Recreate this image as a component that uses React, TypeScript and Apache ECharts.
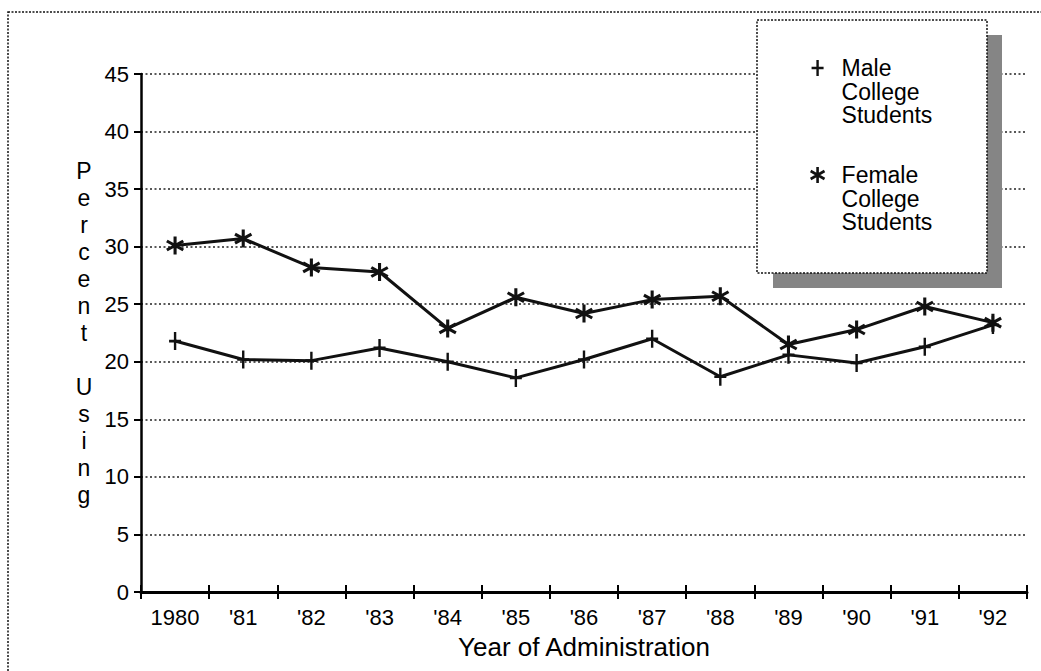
import React, { useEffect, useRef } from "react";
import * as echarts from "echarts";

const years = ["1980", "'81", "'82", "'83", "'84", "'85", "'86", "'87", "'88", "'89", "'90", "'91", "'92"];
const maleValues = [21.8, 20.2, 20.1, 21.2, 20.0, 18.6, 20.2, 22.0, 18.7, 20.6, 19.9, 21.3, 23.2];
const femaleValues = [30.1, 30.7, 28.2, 27.8, 22.9, 25.6, 24.2, 25.4, 25.7, 21.5, 22.8, 24.8, 23.4];
const seriesNames = ["Male College Students", "Female College Students"];
const yMin = 0;
const yMax = 45;
const yInterval = 5;

const FONT = "'Liberation Sans', Arial, Helvetica, sans-serif";

const plusPath = "path://M-1.2,-8H1.2V-1.2H6V1.2H1.2V8H-1.2V1.2H-6V-1.2H-1.2Z";
const starPath =
  "path://M-1.3,-8L1.3,-8L1.3,8L-1.3,8Z" +
  "M7.58,2.87L6.28,5.13L-7.58,-2.87L-6.28,-5.13Z" +
  "M-6.28,5.13L-7.58,2.87L6.28,-5.13L7.58,-2.87Z";

export default function App() {
  const ref = useRef<HTMLDivElement>(null);
  useEffect(() => {
    document.body.style.margin = "0";
    const chart = echarts.init(ref.current!, null, { renderer: "svg" });
    const tickStyle = { color: "#000", width: 2 };
    chart.setOption({
      animation: false,
      backgroundColor: "#fff",
      textStyle: { fontFamily: FONT, color: "#000" },
      grid: { left: 141, right: 14, top: 74, bottom: 79 },
      legend: {
        orient: "vertical",
        left: 810,
        top: 9.25,
        padding: 0,
        itemWidth: 38,
        itemHeight: 16,
        itemGap: -10.5,
        symbolKeepAspect: true,
        selectedMode: false,
        formatter: (n: string) => "\n\n" + n.split(" ").join("\n"),
        textStyle: { fontFamily: FONT, fontSize: 23, lineHeight: 23.5, color: "#000" },
        data: [
          { name: seriesNames[0], icon: plusPath },
          { name: seriesNames[1], icon: starPath },
        ],
      },
      graphic: [
        {
          type: "rect",
          z: 0,
          shape: { x: 8, y: 12, width: 1040, height: 700 },
          style: { fill: "none", stroke: "#111", lineWidth: 1.5, lineDash: [2, 1.5] },
        },
        {
          type: "rect",
          z: 3,
          shape: { x: 773, y: 35, width: 229, height: 253 },
          style: { fill: "#858585" },
        },
        {
          type: "rect",
          z: 3,
          shape: { x: 757, y: 20, width: 230, height: 253 },
          style: { fill: "#fff", stroke: "#111", lineWidth: 1.5, lineDash: [2, 1.5] },
        },
      ],
      xAxis: [
        {
          type: "category",
          data: years,
          boundaryGap: true,
          axisLine: { show: true, lineStyle: { color: "#000", width: 3 } },
          axisTick: { show: true, length: 7, lineStyle: tickStyle },
          axisLabel: { color: "#000", fontSize: 22, margin: 14, fontFamily: FONT },
          splitLine: { show: false },
          name: "Year of Administration",
          nameLocation: "middle",
          nameGap: 42,
          nameTextStyle: { fontSize: 26, color: "#000", fontFamily: FONT },
        },
        {
          type: "category",
          data: years,
          boundaryGap: true,
          position: "top",
          offset: -518,
          axisLine: { show: false },
          axisTick: { show: true, length: 7, lineStyle: tickStyle },
          axisLabel: { show: false },
          splitLine: { show: false },
        },
      ],
      yAxis: {
        type: "value",
        min: yMin,
        max: yMax,
        interval: yInterval,
        axisLine: { show: true, lineStyle: { color: "#000", width: 2.5 } },
        axisTick: { show: true, length: 7, lineStyle: tickStyle },
        axisLabel: { color: "#000", fontSize: 22, margin: 12, fontFamily: FONT },
        splitLine: { show: true, lineStyle: { type: [2, 2.5], color: "#222", width: 1.6 } },
        name: "P\ne\nr\nc\ne\nn\nt\n\nU\ns\ni\nn\ng",
        nameLocation: "middle",
        nameRotate: 0,
        nameGap: 57,
        nameTextStyle: {
          fontSize: 23,
          lineHeight: 27,
          align: "center",
          verticalAlign: "middle",
          color: "#000",
          fontFamily: FONT,
        },
      },
      series: [
        {
          name: seriesNames[0],
          type: "line",
          data: maleValues,
          symbol: plusPath,
          symbolSize: [12, 18],
          lineStyle: { color: "#111", width: 3 },
          itemStyle: { color: "#111" },
        },
        {
          name: seriesNames[1],
          type: "line",
          data: femaleValues,
          symbol: starPath,
          symbolSize: 18,
          lineStyle: { color: "#111", width: 3 },
          itemStyle: { color: "#111" },
        },
      ],
    });
    return () => chart.dispose();
  }, []);
  return <div ref={ref} style={{ width: 1041, height: 671 }} />;
}
